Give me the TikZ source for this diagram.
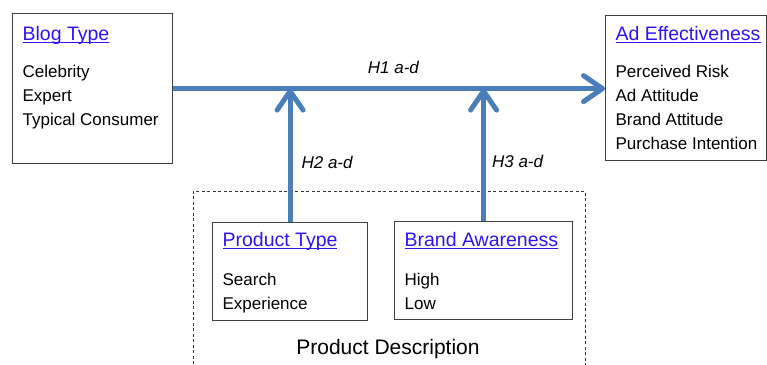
\documentclass[tikz,border=0pt]{standalone}
\usepackage{fontspec}
\setmainfont{Liberation Sans}
\usepackage{xcolor}
\usepackage{tikz}
\usetikzlibrary{arrows.meta}
\definecolor{linkblue}{RGB}{45,20,245}
\definecolor{pathblue}{RGB}{74,126,187}
\tikzstyle{varbox} = [rectangle, draw=black!75, line width=1.2pt, inner xsep=10pt, inner ysep=0pt, anchor=north west, font=\fontsize{17}{24}\selectfont]
\tikzstyle{groupbox} = [rectangle, draw=black!80, line width=0.9pt, dash pattern=on 3pt off 2.5pt, anchor=north west]
\tikzstyle{hyp} = [inner sep=0pt, font=\fontsize{17}{20}\selectfont\itshape]
\tikzstyle{arrow} = [line width=5pt, draw=pathblue, -{Straight Barb[length=19pt,width=26pt,round]}]

\newlength\titlewd
\newcommand{\vartitle}[1]{\leavevmode\fontsize{19.5}{24}\selectfont\settowidth{\titlewd}{#1}\textcolor{linkblue}{\rlap{\rule[-2.2pt]{\titlewd}{1.2pt}}\mbox{#1}}}
\newcommand{\varlist}[4]{\parbox[c][#2][t]{#1}{\raggedright\vspace*{#3}#4}}

\begin{document}
\begin{tikzpicture}[x=1pt, y=-1pt]
\useasboundingbox (0,0) rectangle (767,364);
\node (desc) [groupbox, minimum width=392pt, minimum height=190pt] at (193,191) {};
\node (desclabel) [font=\fontsize{21}{25}\selectfont, anchor=base] at (388,354) {Product Description};
\node (blog) [varbox] at (12,13) {\varlist{140pt}{150pt}{13pt}{\vartitle{Blog Type}\\[13pt] \fontsize{17}{24}\selectfont Celebrity\\ Expert\\ Typical Consumer}};
\node (adeff) [varbox] at (605,15) {\varlist{141pt}{145pt}{11pt}{\vartitle{Ad Effectiveness}\\[13pt] \fontsize{17}{24}\selectfont Perceived Risk\\ Ad Attitude\\ Brand Attitude\\ \mbox{Purchase Intention}}};
\node (ptype) [varbox] at (212,222) {\varlist{135pt}{98pt}{10pt}{\vartitle{Product Type}\\[15pt] \fontsize{17}{24}\selectfont Search\\ Experience}};
\node (bawar) [varbox] at (394,221) {\varlist{158pt}{98pt}{11pt}{\vartitle{Brand Awareness}\\[15pt] \fontsize{17}{24}\selectfont High\\ Low}};
\draw [arrow] (blog.east) -- (blog.east -| adeff.west) node [hyp, pos=0.51, above=12pt] {H1 a-d};
\draw [arrow] (ptype.north) -- (ptype.north |- blog.east) node [hyp, pos=0.45, right=9pt] {H2 a-d};
\draw [arrow] (bawar.north) -- (bawar.north |- blog.east) node [hyp, pos=0.45, right=6pt] {H3 a-d};
\end{tikzpicture}
\end{document}
